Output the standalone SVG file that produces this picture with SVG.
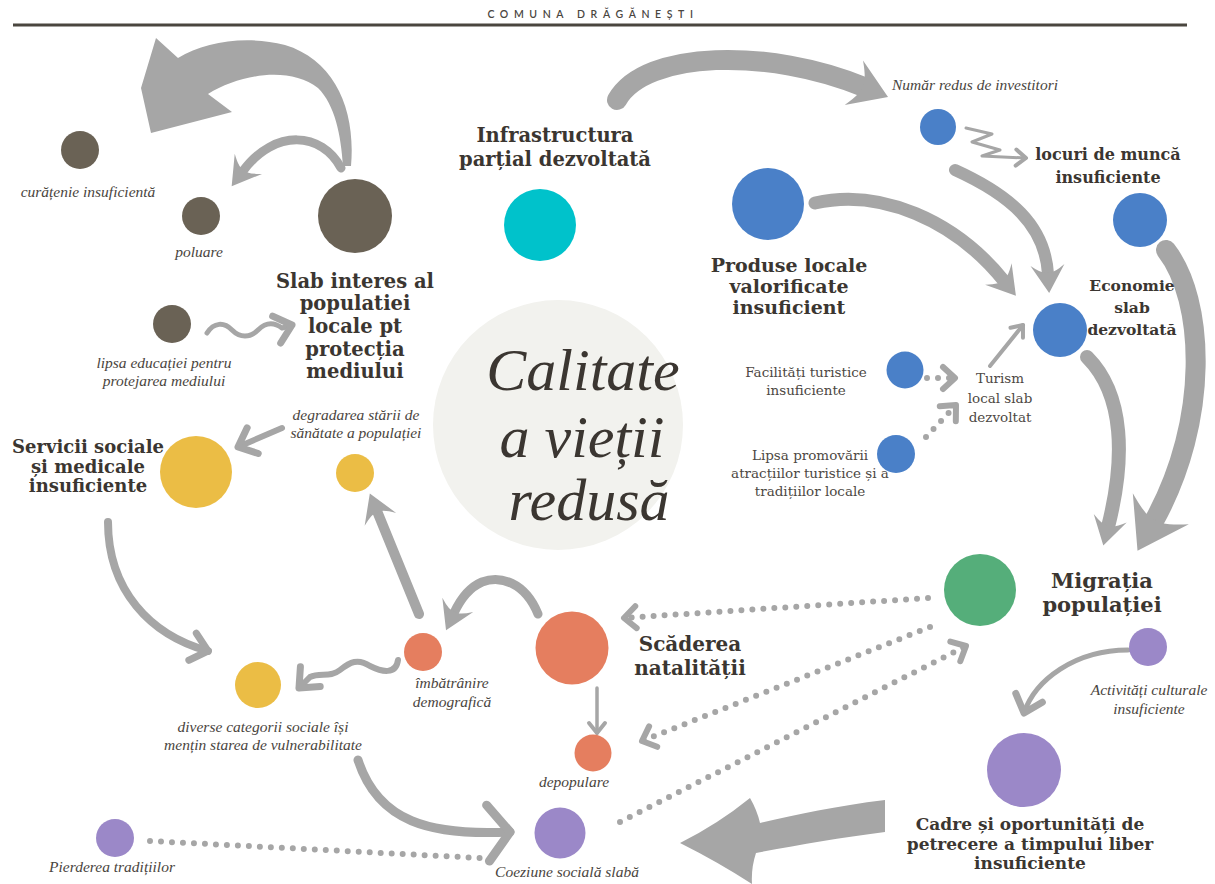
<svg xmlns="http://www.w3.org/2000/svg" width="1215" height="884" viewBox="0 0 1215 884">
<defs>
<style>
.h{font-family:"DejaVu Serif","Liberation Serif",serif;font-weight:bold;fill:#3b3631;text-anchor:middle}
.i{font-family:"Liberation Serif",serif;font-style:italic;font-size:15.5px;fill:#4a4540;text-anchor:middle}
.r{font-family:"DejaVu Serif","Liberation Serif",serif;font-size:13.5px;fill:#4d4843;text-anchor:middle}
.big{font-family:"Liberation Serif",serif;font-style:italic;font-size:60px;fill:#3b3631;text-anchor:middle}
.c{fill:none;stroke:#a6a6a6;stroke-linecap:round;stroke-linejoin:round}
.dot{fill:none;stroke:#a6a6a6;stroke-width:6;stroke-linecap:round;stroke-dasharray:0 11}
.f{fill:#a6a6a6}
.brown{fill:#6a6255}.blue{fill:#4a80c8}.cyan{fill:#00c2cb}.yel{fill:#ebbd45}.ora{fill:#e57e5f}.grn{fill:#55ae7a}.pur{fill:#9b88c8}
</style>
<marker id="cv" markerUnits="userSpaceOnUse" viewBox="-24 -20 30 40" markerWidth="30" markerHeight="40" refX="0" refY="0" orient="auto" overflow="visible"><path d="M-16,-14 L0,0 L-16,14" fill="none" stroke="#a6a6a6" stroke-width="7" stroke-linecap="round" stroke-linejoin="round"/></marker>
<marker id="cvs" markerUnits="userSpaceOnUse" viewBox="-14 -12 18 24" markerWidth="18" markerHeight="24" refX="0" refY="0" orient="auto" overflow="visible"><path d="M-10,-8 L0,0 L-10,8" fill="none" stroke="#a6a6a6" stroke-width="4" stroke-linecap="round" stroke-linejoin="round"/></marker>
<marker id="cvd" markerUnits="userSpaceOnUse" viewBox="-20 -16 24 32" markerWidth="24" markerHeight="32" refX="0" refY="0" orient="auto" overflow="visible"><path d="M-12,-11 L0,0 L-12,11" fill="none" stroke="#a6a6a6" stroke-width="6" stroke-linecap="round" stroke-linejoin="round"/></marker>
<marker id="cvl" markerUnits="userSpaceOnUse" viewBox="-30 -34 36 68" markerWidth="36" markerHeight="68" refX="0" refY="0" orient="auto" overflow="visible"><path d="M-22,-28 L0,0 L-22,28" fill="none" stroke="#a6a6a6" stroke-width="9" stroke-linecap="round" stroke-linejoin="round"/></marker>
<marker id="sw" markerUnits="userSpaceOnUse" viewBox="-28 -20 34 40" markerWidth="34" markerHeight="40" refX="-15" refY="0" orient="auto" overflow="visible"><path d="M4,0 L-24,-17 Q-14,-4 -17,0 Q-14,4 -24,17 Z" fill="#a6a6a6"/></marker>
<marker id="swm" markerUnits="userSpaceOnUse" viewBox="-36 -28 44 56" markerWidth="44" markerHeight="56" refX="-21" refY="0" orient="auto" overflow="visible"><path d="M5,0 L-32,-24 Q-20,-5 -23,0 Q-20,5 -32,24 Z" fill="#a6a6a6"/></marker>
<marker id="swl" markerUnits="userSpaceOnUse" viewBox="-46 -36 54 72" markerWidth="54" markerHeight="72" refX="-28" refY="0" orient="auto" overflow="visible"><path d="M6,0 L-42,-32 Q-26,-6 -30,0 Q-26,6 -42,32 Z" fill="#a6a6a6"/></marker>
</defs>
<rect width="1215" height="884" fill="#ffffff"/>

<g id="header">
<text x="593" y="18" font-family="Lato, 'Liberation Sans', sans-serif" font-size="10.5" font-weight="600" letter-spacing="5.6" fill="#4a463f" text-anchor="middle">COMUNA DRĂGĂNEȘTI</text>
<line x1="13" y1="25" x2="1187" y2="25" stroke="#4a463f" stroke-width="3"/>
</g>

<g id="center">
<circle cx="558" cy="425" r="125" fill="#f2f2ee"/>
<text class="big" x="583" y="390">Calitate</text>
<text class="big" x="582" y="457">a vieții</text>
<text class="big" x="589" y="520">redusă</text>
</g>

<g id="connectors">
<path class="f" d="M351,166 C356,110 335,60 285,45 C245,35 205,42 178,58 L156,38 L141,88 L151,133 L232,112 L208,94 C240,74 290,66 318,88 C335,105 341,135 343,166 Z"/>
<path class="c" stroke-width="9" d="M341,168 C322,132 275,128 243,171" marker-end="url(#sw)"/>
<path class="c" stroke-width="5" d="M207,333 C214,322 224,322 232,330 C240,338 250,338 258,330 C266,322 274,322 282,328 L292,325" marker-end="url(#cv)"/>
<path class="c" stroke-width="20" d="M617,100 C645,50 770,48 864,87" marker-end="url(#swm)"/>
<path class="c" stroke-width="3" d="M966,128 L992,134 L972,142 L1000,150 L982,156 L1026,158" marker-end="url(#cvs)"/>
<path class="c" stroke-width="12" d="M955,170 C1010,195 1045,225 1048,274" marker-end="url(#sw)"/>
<path class="c" stroke-width="13" d="M815,203 C880,188 955,220 1004,281" marker-end="url(#sw)"/>
<path class="c" stroke-width="20" d="M1166,250 C1205,300 1210,420 1154,521" marker-end="url(#swl)"/>
<path class="c" stroke-width="14" d="M1087,357 C1125,395 1125,460 1108,527" marker-end="url(#sw)"/>
<path class="dot" d="M927,378 L955,378" marker-end="url(#cvd)"/>
<path class="dot" d="M926,437 L956,405" marker-end="url(#cvd)"/>
<path class="c" stroke-width="4" d="M990,366 L1023,325" marker-end="url(#cvs)"/>
<path class="dot" d="M928,598 L624,618" marker-end="url(#cvd)"/>
<path class="dot" d="M930,627 L642,741" marker-end="url(#cvd)"/>
<path class="dot" d="M620,822 L966,646" marker-end="url(#cvd)"/>
<path class="c" stroke-width="5" d="M1128,650 C1075,650 1035,680 1024,713" marker-end="url(#cv)"/>
<path class="f" d="M885,800 C835,806 795,815 760,823 Q757,810 750,798 Q718,824 680,843 Q718,862 752,884 Q751,868 756,853 C798,845 838,838 885,832 Z"/>
<path class="c" stroke-width="9" d="M538,614 C525,582 500,575 482,582 C468,588 460,600 454,613" marker-end="url(#sw)"/>
<path class="c" stroke-width="3.5" d="M597,688 L597,733" marker-end="url(#cvs)"/>
<path class="c" stroke-width="10" d="M419,614 L377,511" marker-end="url(#sw)"/>
<path class="c" stroke-width="6" d="M398,660 C396,675 382,672 370,666 C358,658 350,662 340,670 C330,678 320,672 310,677 L299,688" marker-end="url(#cv)"/>
<path class="c" stroke-width="6" d="M282,428 L238,447" marker-end="url(#cv)"/>
<path class="c" stroke-width="8" d="M108,522 C108,590 150,635 208,651" marker-end="url(#cv)"/>
<path class="c" stroke-width="9" d="M358,760 C378,822 430,836 510,832" marker-end="url(#cvl)"/>
<path class="dot" d="M150,841 L480,858"/>
</g>

<g id="n-curatenie"><circle class="brown" cx="80" cy="150" r="19"/><text class="i" x="88" y="197">curățenie insuficientă</text></g>
<g id="n-poluare"><circle class="brown" cx="201" cy="216" r="19"/><text class="i" x="199" y="257">poluare</text></g>
<g id="n-slab"><circle class="brown" cx="355" cy="216" r="37"/>
<text class="h" font-size="19.5"><tspan x="355" y="288">Slab interes al</tspan><tspan x="355" y="310">populatiei</tspan><tspan x="355" y="333">locale pt</tspan><tspan x="355" y="356">protecția</tspan><tspan x="355" y="378">mediului</tspan></text></g>
<g id="n-lipsaedu"><circle class="brown" cx="172" cy="324" r="19"/><text class="i"><tspan x="164" y="368">lipsa educației pentru</tspan><tspan x="164" y="386">protejarea mediului</tspan></text></g>
<g id="n-infra"><circle class="cyan" cx="540" cy="225" r="36"/><text class="h" font-size="19.5"><tspan x="555" y="142">Infrastructura</tspan><tspan x="555" y="166">parțial dezvoltată</tspan></text></g>
<g id="n-numar"><circle class="blue" cx="938" cy="127" r="18"/><text class="i" x="975" y="90">Număr redus de investitori</text></g>
<g id="n-locuri"><circle class="blue" cx="1140" cy="220" r="27"/><text class="h" font-size="16"><tspan x="1108" y="160">locuri de muncă</tspan><tspan x="1108" y="183">insuficiente</tspan></text></g>
<g id="n-produse"><circle class="blue" cx="768" cy="204" r="36"/><text class="h" font-size="19"><tspan x="789" y="272">Produse locale</tspan><tspan x="789" y="293">valorificate</tspan><tspan x="789" y="314">insuficient</tspan></text></g>
<g id="n-economie"><circle class="blue" cx="1060" cy="330" r="27"/><text class="h" font-size="15.5"><tspan x="1132" y="291">Economie</tspan><tspan x="1132" y="313">slab</tspan><tspan x="1132" y="335">dezvoltată</tspan></text></g>
<g id="n-facilitati"><circle class="blue" cx="905" cy="370" r="18.5"/><text class="r"><tspan x="806" y="377">Facilități turistice</tspan><tspan x="806" y="395">insuficiente</tspan></text></g>
<g id="n-promovare"><circle class="blue" cx="896" cy="454" r="19"/><text class="r"><tspan x="810" y="460">Lipsa promovării</tspan><tspan x="810" y="478">atracțiilor turistice și a</tspan><tspan x="810" y="496">tradițiilor locale</tspan></text></g>
<g id="n-turism"><text class="r" font-size="14.5"><tspan x="1000" y="383">Turism</tspan><tspan x="1000" y="403">local slab</tspan><tspan x="1000" y="422">dezvoltat</tspan></text></g>
<g id="n-migratia"><circle class="grn" cx="980" cy="590" r="36"/><text class="h" font-size="21"><tspan x="1102" y="588">Migrația</tspan><tspan x="1102" y="612">populației</tspan></text></g>
<g id="n-activitati"><circle class="pur" cx="1148" cy="647" r="19"/><text class="i"><tspan x="1149" y="695">Activități culturale</tspan><tspan x="1149" y="714">insuficiente</tspan></text></g>
<g id="n-cadre"><circle class="pur" cx="1024" cy="770" r="37"/><text class="h" font-size="17"><tspan x="1030" y="830">Cadre și oportunități de</tspan><tspan x="1030" y="850">petrecere a timpului liber</tspan><tspan x="1030" y="869">insuficiente</tspan></text></g>
<g id="n-scaderea"><circle class="ora" cx="572" cy="648" r="36.5"/><text class="h" font-size="20"><tspan x="690" y="651">Scăderea</tspan><tspan x="690" y="675">natalității</tspan></text></g>
<g id="n-imbatranire"><circle class="ora" cx="423" cy="652" r="19"/><text class="i"><tspan x="452" y="688">îmbătrânire</tspan><tspan x="452" y="707">demografică</tspan></text></g>
<g id="n-depopulare"><circle class="ora" cx="593" cy="753" r="18.5"/><text class="i" x="574" y="787">depopulare</text></g>
<g id="n-coeziune"><circle class="pur" cx="560" cy="833" r="25.5"/><text class="i" x="567" y="877">Coeziune socială slabă</text></g>
<g id="n-pierderea"><circle class="pur" cx="115" cy="838" r="19"/><text class="i" x="112" y="872">Pierderea tradițiilor</text></g>
<g id="n-diverse"><circle class="yel" cx="258" cy="685" r="23"/><text class="i"><tspan x="263" y="732">diverse categorii sociale își</tspan><tspan x="263" y="750">mențin starea de vulnerabilitate</tspan></text></g>
<g id="n-servicii"><circle class="yel" cx="196" cy="472" r="36"/><text class="h" font-size="18"><tspan x="88" y="453">Servicii sociale</tspan><tspan x="88" y="473">și medicale</tspan><tspan x="88" y="492">insuficiente</tspan></text></g>
<g id="n-degradarea"><circle class="yel" cx="355" cy="473" r="19"/><text class="i"><tspan x="356" y="420">degradarea stării de</tspan><tspan x="356" y="438">sănătate a populației</tspan></text></g>
</svg>
